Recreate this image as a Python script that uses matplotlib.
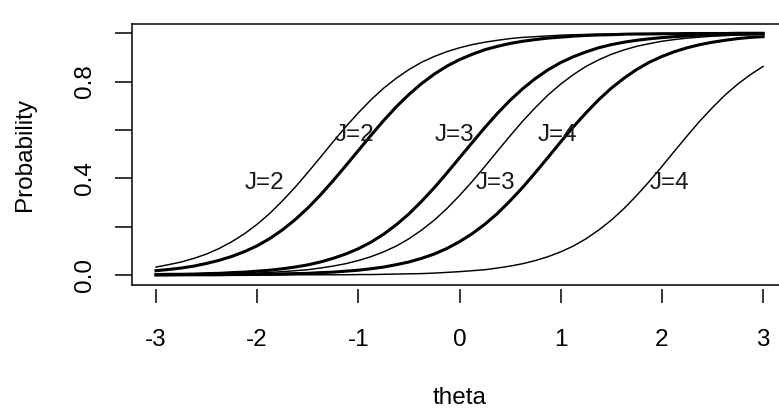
import matplotlib
matplotlib.use("Agg")
import matplotlib.pyplot as plt

plt.rcParams["font.family"] = ["Liberation Sans", "DejaVu Sans"]

# theta grid the curves were read at (step 0.125)
theta = [-3.0, -2.875, -2.75, -2.625, -2.5, -2.375, -2.25,
         -2.125, -2.0, -1.875, -1.75, -1.625, -1.5, -1.375,
         -1.25, -1.125, -1.0, -0.875, -0.75, -0.625, -0.5,
         -0.375, -0.25, -0.125, 0.0, 0.125, 0.25, 0.375,
         0.5, 0.625, 0.75, 0.875, 1.0, 1.125, 1.25,
         1.375, 1.5, 1.625, 1.75, 1.875, 2.0, 2.125,
         2.25, 2.375, 2.5, 2.625, 2.75, 2.875, 3.0]

# thin curves
thin_j2 = [0.033, 0.043, 0.054, 0.069, 0.087, 0.110, 0.138,
           0.171, 0.210, 0.255, 0.307, 0.363, 0.424, 0.487,
           0.551, 0.613, 0.671, 0.725, 0.773, 0.814, 0.850,
           0.880, 0.904, 0.924, 0.940, 0.953, 0.963, 0.971,
           0.978, 0.983, 0.986, 0.989, 0.992, 0.994, 0.995,
           0.996, 0.997, 0.998, 0.998, 0.999, 0.999, 0.999,
           0.999, 1.000, 1.000, 1.000, 1.000, 1.000, 1.000]
thin_j3 = [0.001, 0.001, 0.002, 0.002, 0.003, 0.004, 0.005,
           0.006, 0.008, 0.011, 0.014, 0.018, 0.022, 0.029,
           0.037, 0.047, 0.060, 0.076, 0.096, 0.120, 0.150,
           0.186, 0.227, 0.275, 0.329, 0.387, 0.449, 0.513,
           0.576, 0.637, 0.693, 0.745, 0.790, 0.829, 0.863,
           0.890, 0.913, 0.931, 0.946, 0.957, 0.967, 0.974,
           0.980, 0.984, 0.988, 0.990, 0.993, 0.994, 0.996]
thin_j4 = [0.000, 0.000, 0.000, 0.000, 0.000, 0.000, 0.000,
           0.000, 0.000, 0.000, 0.000, 0.001, 0.001, 0.001,
           0.001, 0.001, 0.002, 0.002, 0.003, 0.004, 0.005,
           0.006, 0.008, 0.011, 0.014, 0.018, 0.022, 0.029,
           0.037, 0.047, 0.060, 0.076, 0.096, 0.120, 0.150,
           0.186, 0.227, 0.275, 0.329, 0.387, 0.449, 0.513,
           0.576, 0.637, 0.693, 0.745, 0.790, 0.829, 0.863]

# thick curves
thick_j2 = [0.018, 0.023, 0.029, 0.037, 0.048, 0.061, 0.077,
            0.097, 0.121, 0.151, 0.187, 0.229, 0.277, 0.331,
            0.390, 0.452, 0.515, 0.578, 0.639, 0.696, 0.747,
            0.792, 0.831, 0.864, 0.891, 0.913, 0.932, 0.946,
            0.958, 0.967, 0.974, 0.980, 0.984, 0.988, 0.991,
            0.993, 0.994, 0.996, 0.997, 0.997, 0.998, 0.998,
            0.999, 0.999, 0.999, 0.999, 1.000, 1.000, 1.000]
thick_j3 = [0.002, 0.003, 0.003, 0.004, 0.006, 0.007, 0.010,
            0.012, 0.016, 0.020, 0.026, 0.033, 0.042, 0.054,
            0.069, 0.087, 0.109, 0.136, 0.169, 0.208, 0.253,
            0.305, 0.361, 0.422, 0.485, 0.548, 0.610, 0.669,
            0.723, 0.771, 0.813, 0.849, 0.879, 0.903, 0.923,
            0.940, 0.953, 0.963, 0.971, 0.977, 0.982, 0.986,
            0.989, 0.992, 0.994, 0.995, 0.996, 0.997, 0.998]
thick_j4 = [0.000, 0.000, 0.001, 0.001, 0.001, 0.001, 0.002,
            0.002, 0.003, 0.003, 0.005, 0.006, 0.007, 0.010,
            0.012, 0.016, 0.020, 0.026, 0.033, 0.043, 0.054,
            0.069, 0.087, 0.110, 0.138, 0.171, 0.210, 0.255,
            0.307, 0.363, 0.424, 0.487, 0.551, 0.613, 0.671,
            0.725, 0.773, 0.814, 0.850, 0.880, 0.904, 0.924,
            0.940, 0.953, 0.963, 0.971, 0.978, 0.983, 0.986]

# curve labels
label_text = ["J=2", "J=2", "J=3", "J=3", "J=4", "J=4"]
label_x = [-1.93, -1.04, -0.05, 0.36, 0.97, 2.07]
label_y = [0.38, 0.58, 0.58, 0.38, 0.58, 0.38]

xticks = [-3, -2, -1, 0, 1, 2, 3]
yticks = [0.0, 0.2, 0.4, 0.6, 0.8, 1.0]
ytick_labels = ["0.0", "", "0.4", "", "0.8", ""]

fs = 17.5

fig = plt.figure(figsize=(7.79, 4.19), dpi=100)
ax = fig.add_axes([131.7 / 779, 0.3205, 655.7 / 779, 0.6232])

for y in [thin_j2, thin_j3, thin_j4]:
    ax.plot(theta, y, color="black", lw=1.05)
for y in [thick_j2, thick_j3, thick_j4]:
    ax.plot(theta, y, color="black", lw=2.2)

for t, x, y in zip(label_text, label_x, label_y):
    ax.text(x, y, t, fontsize=fs, ha="center", va="center", color="#1a1a1a")

ax.set_xlim(-3.24, 3.24)
ax.set_ylim(-0.04, 1.04)

ax.set_xticks(xticks)
ax.set_xticklabels([str(v) for v in xticks])
ax.set_yticks(yticks)
ax.set_yticklabels(ytick_labels)

# x axis sits a little below the box, like the original
ax.spines["bottom"].set_position(("outward", 3))
ax.spines["bottom"].set_visible(False)
ax.plot([0, 1], [0, 0], transform=ax.transAxes, color="black", lw=1.1, clip_on=False)
for s in ["left", "top", "right"]:
    ax.spines[s].set_linewidth(1.1)

ax.tick_params(axis="x", length=10, width=1.1, pad=19, labelsize=fs)
ax.tick_params(axis="y", length=12, width=1.1, pad=14, labelsize=fs, labelrotation=90)
for tl in ax.get_yticklabels():
    tl.set_va("center")

ax.set_xlabel("theta", fontsize=fs, va="center")
ax.xaxis.set_label_coords(0.5, -0.434)
ax.set_ylabel("Probability", fontsize=fs, va="center")
ax.yaxis.set_label_coords(-0.163, 0.5)

fig.savefig("out.png", dpi=100)
